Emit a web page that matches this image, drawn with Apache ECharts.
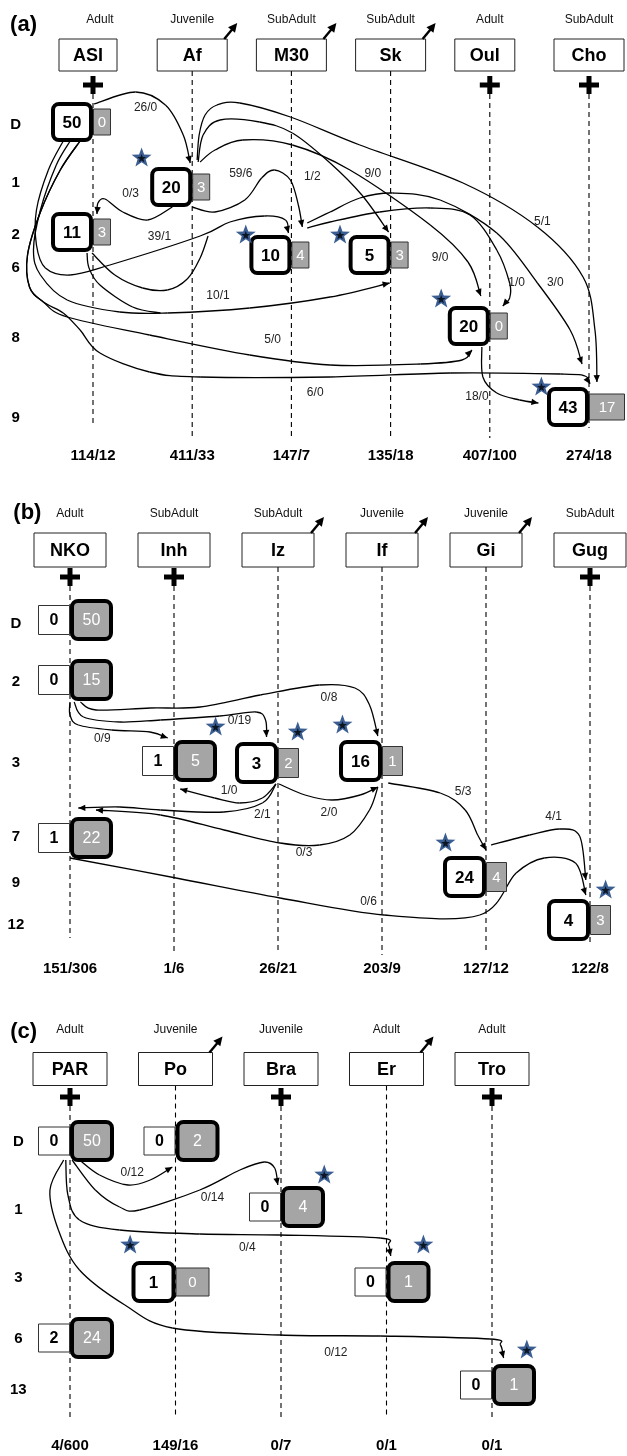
<!DOCTYPE html>
<html>
<head>
<meta charset="utf-8">
<script src="https://cdn.jsdelivr.net/npm/echarts@6/dist/echarts.min.js"></script>
<style>
  html, body { margin: 0; padding: 0; background: #fff; }
  #chart { width: 627px; height: 1456px; }
</style>
</head>
<body>
<div id="chart"></div>
<script>
// ---------------- Panel (a) ----------------
const groupsA = ['ASI', 'Af', 'M30', 'Sk', 'Oul', 'Cho'];
const agesA = ['Adult', 'Juvenile', 'SubAdult', 'SubAdult', 'Adult', 'SubAdult'];
const fateA = ['dead', 'moved', 'moved', 'moved', 'dead', 'dead'];
const totalsA = ['114/12', '411/33', '147/7', '135/18', '407/100', '274/18'];
const rowsA = ['D', '1', '2', '6', '8', '9'];
// nodes: [group column, left count, right count, emphasised box]
const nodesA = [[0, 50, 0, 'L'], [1, 20, 3, 'L'], [0, 11, 3, 'L'], [2, 10, 4, 'L'], [3, 5, 3, 'L'], [4, 20, 0, 'L'], [5, 43, 17, 'L']];
const flowLabelsA = ['26/0', '0/3', '59/6', '1/2', '9/0', '39/1', '5/1', '9/0', '1/0', '3/0', '10/1', '5/0', '6/0', '18/0'];

// ---------------- Panel (b) ----------------
const groupsB = ['NKO', 'Inh', 'Iz', 'If', 'Gi', 'Gug'];
const agesB = ['Adult', 'SubAdult', 'SubAdult', 'Juvenile', 'Juvenile', 'SubAdult'];
const fateB = ['dead', 'dead', 'moved', 'moved', 'moved', 'dead'];
const totalsB = ['151/306', '1/6', '26/21', '203/9', '127/12', '122/8'];
const rowsB = ['D', '2', '3', '7', '9', '12'];
const nodesB = [[0, 0, 50, 'R'], [0, 0, 15, 'R'], [1, 1, 5, 'R'], [2, 3, 2, 'L'], [3, 16, 1, 'L'], [0, 1, 22, 'R'], [4, 24, 4, 'L'], [5, 4, 3, 'L']];
const flowLabelsB = ['0/8', '0/19', '0/9', '1/0', '2/1', '2/0', '5/3', '4/1', '0/3', '0/6'];

// ---------------- Panel (c) ----------------
const groupsC = ['PAR', 'Po', 'Bra', 'Er', 'Tro'];
const agesC = ['Adult', 'Juvenile', 'Juvenile', 'Adult', 'Adult'];
const fateC = ['dead', 'moved', 'dead', 'moved', 'dead'];
const totalsC = ['4/600', '149/16', '0/7', '0/1', '0/1'];
const rowsC = ['D', '1', '3', '6', '13'];
const nodesC = [[0, 0, 50, 'R'], [1, 0, 2, 'R'], [2, 0, 4, 'R'], [1, 1, 0, 'L'], [3, 0, 1, 'R'], [0, 2, 24, 'R'], [4, 0, 1, 'R']];
const flowLabelsC = ['0/12', '0/14', '0/4', '0/12'];

// ---------------- Layout (x in column units, y in panel units) ----------------
const layoutA = {
  rowY: [125, 183, 235, 268, 338, 418],
  nodeY: [122, 187, 232, 255, 255, 326, 407],
  stars: [[0.49, 158], [1.54, 235], [2.49, 235], [3.51, 299], [4.52, 387]],
  labelAt: [[0.53, 108], [0.38, 194], [1.49, 174], [2.21, 177], [2.82, 174], [0.67, 237], [4.53, 222], [3.50, 258], [4.27, 283], [4.66, 283], [1.26, 296], [1.81, 340], [2.24, 393], [3.87, 397]],
  flows: [
    { head: 1, pts: [[0.01, 104], [0.43, 92], [0.73, 105], [0.91, 135], [0.98, 163]] },
    { head: 1, pts: [[0.80, 207], [0.55, 220], [0.30, 212], [0.12, 199], [0.05, 203], [0.04, 214]] },
    { head: 1, pts: [[1.00, 207], [1.23, 212], [1.53, 200], [1.70, 178], [1.83, 170], [1.99, 180], [2.07, 205], [2.11, 227]] },
    { head: 1, pts: [[-0.30, 141], [-0.45, 170], [-0.57, 210], [-0.57, 245], [-0.48, 268], [-0.23, 275], [0.17, 265], [1.08, 236], [1.38, 222], [1.73, 216], [1.94, 220], [1.97, 233]] },
    { head: 0, pts: [[-0.01, 253], [0.22, 275], [0.50, 288], [0.75, 290], [0.95, 279], [1.08, 258], [1.16, 236]] },
    { head: 1, pts: [[-0.23, 141], [-0.37, 165], [-0.53, 210], [-0.60, 250], [-0.53, 275], [-0.26, 300], [0.27, 312], [0.75, 313], [1.58, 308], [2.39, 297], [2.99, 283]] },
    { head: 0, pts: [[-0.06, 253], [-0.04, 268], [0.07, 285], [0.40, 307], [0.68, 313]] },
    { head: 1, pts: [[-0.13, 141], [-0.33, 170], [-0.53, 212], [-0.66, 255], [-0.64, 287], [-0.50, 302], [-0.26, 317], [0.57, 335], [1.58, 355], [2.39, 365], [3.30, 364], [3.72, 360], [3.82, 350]] },
    { head: 1, pts: [[-0.13, 141], [-0.33, 170], [-0.53, 212], [-0.66, 255], [-0.64, 287], [-0.50, 302], [-0.30, 313], [-0.13, 330], [0.07, 353], [0.57, 372], [1.08, 377], [2.39, 377], [3.60, 373], [4.71, 374], [4.96, 376], [5.01, 384]] },
    { head: 1, pts: [[1.05, 160], [1.07, 135], [1.13, 115], [1.25, 105], [1.48, 103], [1.99, 117], [2.69, 145], [3.73, 183], [4.48, 227], [4.94, 277], [5.06, 330], [5.08, 382]] },
    { head: 1, pts: [[1.06, 162], [1.11, 135], [1.28, 120], [1.68, 122], [2.01, 133], [2.39, 163], [2.71, 195], [2.98, 232]] },
    { head: 1, pts: [[1.08, 162], [1.23, 150], [1.51, 140], [2.01, 145], [2.59, 170], [3.40, 225], [3.78, 262], [3.91, 296]] },
    { head: 1, pts: [[2.16, 223], [2.39, 212], [2.69, 198], [3.02, 193], [3.50, 200], [4.07, 233], [4.48, 283], [4.81, 330], [4.93, 364]] },
    { head: 1, pts: [[2.16, 228], [2.39, 222], [2.89, 212], [3.40, 208], [3.80, 215], [4.07, 250], [4.20, 283], [4.20, 298], [4.13, 306]] },
    { head: 1, pts: [[3.92, 347], [3.93, 377], [4.07, 393], [4.30, 400], [4.49, 403]] }
  ]
};
const layoutB = {
  rowY: [144, 202, 283, 357, 403, 445],
  nodeY: [140, 200, 281, 283, 281, 358, 397, 440],
  stars: [[1.40, 247], [2.19, 252], [2.62, 245], [3.61, 363], [5.15, 410]],
  labelAt: [[2.49, 218], [1.63, 241], [0.31, 259], [1.53, 311], [1.85, 335], [2.49, 333], [3.78, 312], [4.65, 337], [2.25, 373], [2.87, 422]],
  flows: [
    { head: 1, pts: [[0, 222], [0, 235], [0.08, 245], [0.40, 250], [0.77, 252], [0.94, 258]] },
    { head: 1, pts: [[0.04, 222], [0.13, 237], [0.48, 242], [0.87, 240], [1.44, 236], [1.79, 232], [1.88, 240], [1.89, 257]] },
    { head: 1, pts: [[0.10, 222], [0.25, 230], [0.77, 228], [1.25, 227], [1.83, 215], [2.40, 205], [2.74, 208], [2.88, 225], [2.96, 256]] },
    { head: 1, pts: [[1.98, 304], [1.85, 318], [1.63, 323], [1.39, 318], [1.06, 309]] },
    { head: 1, pts: [[1.98, 304], [1.85, 323], [1.48, 332], [0.87, 330], [0.48, 327], [0.08, 328]] },
    { head: 1, pts: [[2.96, 307], [2.88, 330], [2.69, 355], [2.40, 365], [2.02, 363], [1.48, 350], [0.87, 335], [0.25, 330]] },
    { head: 1, pts: [[2.01, 304], [2.26, 315], [2.52, 320], [2.79, 315], [2.96, 307]] },
    { head: 1, pts: [[3.06, 303], [3.56, 313], [3.80, 330], [3.92, 355], [4.00, 370]] },
    { head: 1, pts: [[4.05, 365], [4.42, 355], [4.71, 349], [4.90, 356], [4.96, 400]] },
    { head: 1, pts: [[0, 378], [1.02, 398], [2.02, 418], [3.02, 435], [3.94, 435], [4.29, 393], [4.56, 378], [4.86, 383], [4.96, 415]] }
  ]
};
const layoutC = {
  rowY: [162, 230, 298, 359, 410],
  nodeY: [161, 161, 227, 302, 302, 358, 405],
  stars: [[2.41, 195], [0.57, 265], [3.35, 265], [4.33, 370]],
  labelAt: [[0.59, 193], [1.35, 218], [1.68, 268], [2.52, 373]],
  flows: [
    { head: 1, pts: [[0.09, 180], [0.28, 195], [0.55, 205], [0.76, 200], [0.97, 187]] },
    { head: 1, pts: [[0.02, 180], [0.24, 210], [0.47, 227], [0.66, 230], [1.23, 210], [1.61, 190], [1.84, 182], [1.94, 188], [1.97, 205]] },
    { head: 1, pts: [[-0.04, 180], [-0.02, 215], [0.09, 240], [0.47, 250], [1.23, 254], [1.99, 255], [2.94, 258], [3.02, 265], [3.04, 276]] },
    { head: 1, pts: [[-0.06, 180], [-0.19, 210], [-0.11, 250], [0.09, 290], [0.52, 325], [0.97, 348], [1.99, 355], [2.94, 356], [3.98, 359], [4.08, 365], [4.11, 378]] }
  ]
};

// ---------------- Panel frames and box styles ----------------
const panels = [
  {
    tag: '(a)', tagAt: [-0.70, 25], groups: groupsA, ages: agesA, fate: fateA, totals: totalsA, rows: rowsA,
    nodes: nodesA, flowLabels: flowLabelsA, L: layoutA,
    grid: { top: 0, height: 440, left: 93, right: 38 },
    ageY: 20, boxY: 55, boxH: 32, boxW: [58, 70, 70, 70, 60, 70], plusY: 85,
    boxShift: [-5, 0, 0, 0, -5, 0], ageShift: [7, 0, 0, 0, 0, 0],
    lineEnd: [425, 438, 438, 438, 438, 428], rowX: -0.78,
    thick: { w: 42, h: 40 }, small: { h: 27, wL: d => 32, wR: d => 18 * d }
  },
  {
    tag: '(b)', tagAt: [-0.41, 33], groups: groupsB, ages: agesB, fate: fateB, totals: totalsB, rows: rowsB,
    nodes: nodesB, flowLabels: flowLabelsB, L: layoutB,
    grid: { top: 480, height: 473, left: 70, right: 37 },
    ageY: 34, boxY: 70, boxH: 34, boxW: [72, 72, 72, 72, 72, 72], plusY: 97,
    boxShift: [0, 0, 0, 0, 0, 0], ageShift: [0, 0, 0, 0, 0, 0],
    lineEnd: [458, 475, 473, 475, 473, 462], rowX: -0.52,
    thick: { w: 43, h: 42 }, small: { h: 30, wL: d => 32, wR: d => 21 }
  },
  {
    tag: '(c)', tagAt: [-0.44, 52], groups: groupsC, ages: agesC, fate: fateC, totals: totalsC, rows: rowsC,
    nodes: nodesC, flowLabels: flowLabelsC, L: layoutC,
    grid: { top: 980, height: 450, left: 70, right: 135 },
    ageY: 50, boxY: 89, boxH: 33, boxW: [74, 74, 74, 74, 74], plusY: 117,
    boxShift: [0, 0, 0, 0, 0], ageShift: [0, 0, 0, 0, 0],
    lineEnd: [438, 438, 438, 438, 438], rowX: -0.49,
    thick: { w: 44, h: 42 }, small: { h: 29, wL: d => 32, wR: d => 34 }
  }
];

const FONT = '"Liberation Sans", Arial, Helvetica, sans-serif';
const GRAY = '#a5a5a5';

function txt(x, y, text, size, weight, color) {
  return {
    type: 'text', x: x, y: y,
    style: { text: String(text), fill: color || '#000', fontSize: size, fontWeight: weight || 'normal',
      fontFamily: FONT, align: 'center', verticalAlign: 'middle' }
  };
}
function arrowHead(tx, ty, dx, dy, len, half) {
  const L = Math.hypot(dx, dy) || 1, ux = dx / L, uy = dy / L;
  const bx = tx - ux * len, by = ty - uy * len;
  return { type: 'polygon', shape: { points: [[tx, ty], [bx - uy * half, by + ux * half], [bx + uy * half, by - ux * half]] },
    style: { fill: '#000' } };
}
function starShape(x, y, R, r, fill) {
  const pts = [];
  for (let k = 0; k < 10; k++) {
    const a = -Math.PI / 2 + k * Math.PI / 5, rad = k % 2 ? r : R;
    pts.push([x + rad * Math.cos(a), y + rad * Math.sin(a)]);
  }
  return { type: 'polygon', shape: { points: pts }, style: { fill: fill } };
}
function nodeBox(x, y, w, h, fill, thick) {
  if (thick) return { type: 'rect', shape: { x: x + 2, y: y + 2, width: w - 4, height: h - 4, r: 6 }, style: { fill: fill, stroke: '#000', lineWidth: 4 } };
  return { type: 'rect', shape: { x: x + 0.5, y: y + 0.5, width: w - 1, height: h - 1 }, style: { fill: fill, stroke: '#333', lineWidth: 1 } };
}

function panelSeries(P, gi) {
  const base = { type: 'custom', coordinateSystem: 'cartesian2d', xAxisIndex: gi, yAxisIndex: gi, silent: true, animation: false, clip: false };
  const colData = P.groups.map((g, i) => [i, 0]);
  const out = [];

  // dashed guide line under each group
  out.push(Object.assign({}, base, {
    z: 1, data: colData,
    renderItem: (params, api) => {
      const c = params.dataIndex;
      const start = P.fate[c] === 'dead' ? P.plusY + 9 : P.boxY + P.boxH / 2;
      const a = api.coord([c, start]), b = api.coord([c, P.lineEnd[c]]);
      return { type: 'line', shape: { x1: a[0], y1: a[1], x2: b[0], y2: b[1] }, style: { stroke: '#000', lineWidth: 1.1, lineDash: [5, 4] } };
    }
  }));

  // group headers: name box, age class, fate symbol
  out.push(Object.assign({}, base, {
    z: 3, data: colData,
    renderItem: (params, api) => {
      const c = params.dataIndex;
      const p = api.coord([c, P.boxY]);
      const xc = p[0], yb = p[1];
      const x = xc + P.boxShift[c];
      const ya = api.coord([c, P.ageY])[1];
      const w = P.boxW[c], h = P.boxH;
      const kids = [
        { type: 'rect', shape: { x: x - w / 2, y: yb - h / 2, width: w, height: h }, style: { fill: '#fff', stroke: '#222', lineWidth: 1 } },
        txt(x, yb + 1, P.groups[c], 18, 'bold'),
        txt(xc + P.ageShift[c], ya, P.ages[c], 12, 'normal', '#111')
      ];
      if (P.fate[c] === 'dead') {
        const yp = api.coord([c, P.plusY])[1];
        kids.push({ type: 'rect', shape: { x: xc - 10, y: yp - 2.5, width: 20, height: 5 }, style: { fill: '#000' } });
        kids.push({ type: 'rect', shape: { x: xc - 2.5, y: yp - 9, width: 5, height: 18 }, style: { fill: '#000' } });
      } else {
        const x0 = x + w / 2 - 3, y0 = yb - h / 2, x1 = x0 + 13, y1 = y0 - 16;
        kids.push({ type: 'line', shape: { x1: x0, y1: y0, x2: x1 - 3, y2: y1 + 4 }, style: { stroke: '#000', lineWidth: 2.4 } });
        kids.push(arrowHead(x1, y1, x1 - x0, y1 - y0, 9, 4.5));
      }
      return { type: 'group', children: kids };
    }
  }));

  // flows between groups
  out.push(Object.assign({}, base, {
    z: 4, data: P.L.flows.map(() => [0, 0]),
    renderItem: (params, api) => {
      const f = P.L.flows[params.dataIndex];
      const p = f.pts.map(q => api.coord(q));
      const kids = [];
      for (let i = 0; i < p.length - 1; i++) {
        const p0 = p[i - 1] || p[i], p1 = p[i], p2 = p[i + 1], p3 = p[i + 2] || p[i + 1];
        kids.push({
          type: 'bezierCurve',
          shape: { x1: p1[0], y1: p1[1], cpx1: p1[0] + (p2[0] - p0[0]) / 6, cpy1: p1[1] + (p2[1] - p0[1]) / 6,
            cpx2: p2[0] - (p3[0] - p1[0]) / 6, cpy2: p2[1] - (p3[1] - p1[1]) / 6, x2: p2[0], y2: p2[1] },
          style: { stroke: '#000', fill: 'none', lineWidth: 1.3 }
        });
      }
      if (f.head) {
        const n = p.length, a = p[n - 2], b = p[n - 1];
        kids.push(arrowHead(b[0], b[1], b[0] - a[0], b[1] - a[1], 7, 3.2));
      }
      return { type: 'group', children: kids };
    }
  }));

  // observation nodes: white box (left count) + grey box (right count)
  out.push(Object.assign({}, base, {
    z: 6, data: P.nodes.map(() => [0, 0]),
    renderItem: (params, api) => {
      const i = params.dataIndex;
      const n = P.nodes[i];
      const pt = api.coord([n[0], P.L.nodeY[i]]);
      const x = pt[0], y = pt[1];
      const leftThick = n[3] === 'L';
      const lw = leftThick ? P.thick.w : P.small.wL(String(n[1]).length);
      const lh = leftThick ? P.thick.h : P.small.h;
      const rw = leftThick ? P.small.wR(String(n[2]).length) : P.thick.w;
      const rh = leftThick ? P.small.h : P.thick.h;
      const lb = nodeBox(x - lw, y - lh / 2, lw, lh, '#fff', leftThick);
      const rb = nodeBox(x, y - rh / 2, rw, rh, GRAY, !leftThick);
      const kids = leftThick ? [rb, lb] : [lb, rb];
      kids.push(txt(x - lw / 2, y + 1, n[1], leftThick ? 17 : 16, 'bold', '#000'));
      kids.push(txt(x + rw / 2, y + 1, n[2], leftThick ? 15 : 16, 'normal', '#fff'));
      return { type: 'group', children: kids };
    }
  }));

  // stars
  out.push(Object.assign({}, base, {
    z: 7, data: P.L.stars.map(() => [0, 0]),
    renderItem: (params, api) => {
      const s = api.coord(P.L.stars[params.dataIndex]);
      return { type: 'group', children: [starShape(s[0], s[1], 10.5, 4.3, '#3a5d92'), starShape(s[0], s[1] + 0.5, 4.6, 1.9, '#0c1522')] };
    }
  }));

  // text: panel tag, row labels, flow labels
  const texts = [];
  texts.push({ t: P.tag, at: P.tagAt, size: 22, w: 'bold' });
  P.rows.forEach((r, k) => texts.push({ t: r, at: [P.rowX, P.L.rowY[k]], size: 15, w: 'bold' }));
  P.flowLabels.forEach((r, k) => texts.push({ t: r, at: P.L.labelAt[k], size: 12, w: 'normal', c: '#222' }));
  out.push(Object.assign({}, base, {
    z: 8, data: texts.map(() => [0, 0]),
    renderItem: (params, api) => {
      const d = texts[params.dataIndex];
      const p = api.coord(d.at);
      return txt(p[0], p[1], d.t, d.size, d.w, d.c || '#000');
    }
  }));
  return out;
}

const chart = echarts.init(document.getElementById('chart'), null, { renderer: 'canvas' });
const option = {
  backgroundColor: '#fff',
  animation: false,
  grid: panels.map(P => Object.assign({ containLabel: false, outerBoundsMode: 'none' }, P.grid)),
  xAxis: panels.map((P, gi) => ({
    type: 'value', gridIndex: gi, min: 0, max: P.groups.length - 1, interval: 1,
    axisLine: { show: false }, axisTick: { show: false }, splitLine: { show: false },
    axisLabel: {
      margin: 8, showMinLabel: true, showMaxLabel: true, hideOverlap: false,
      fontFamily: FONT, fontSize: 15, fontWeight: 'bold', color: '#000',
      formatter: v => P.totals[Math.round(v)] || ''
    }
  })),
  yAxis: panels.map((P, gi) => ({
    type: 'value', gridIndex: gi, min: 0, max: P.grid.height, inverse: true, show: false
  })),
  series: panels.flatMap((P, gi) => panelSeries(P, gi))
};
chart.setOption(option);
</script>
</body>
</html>
